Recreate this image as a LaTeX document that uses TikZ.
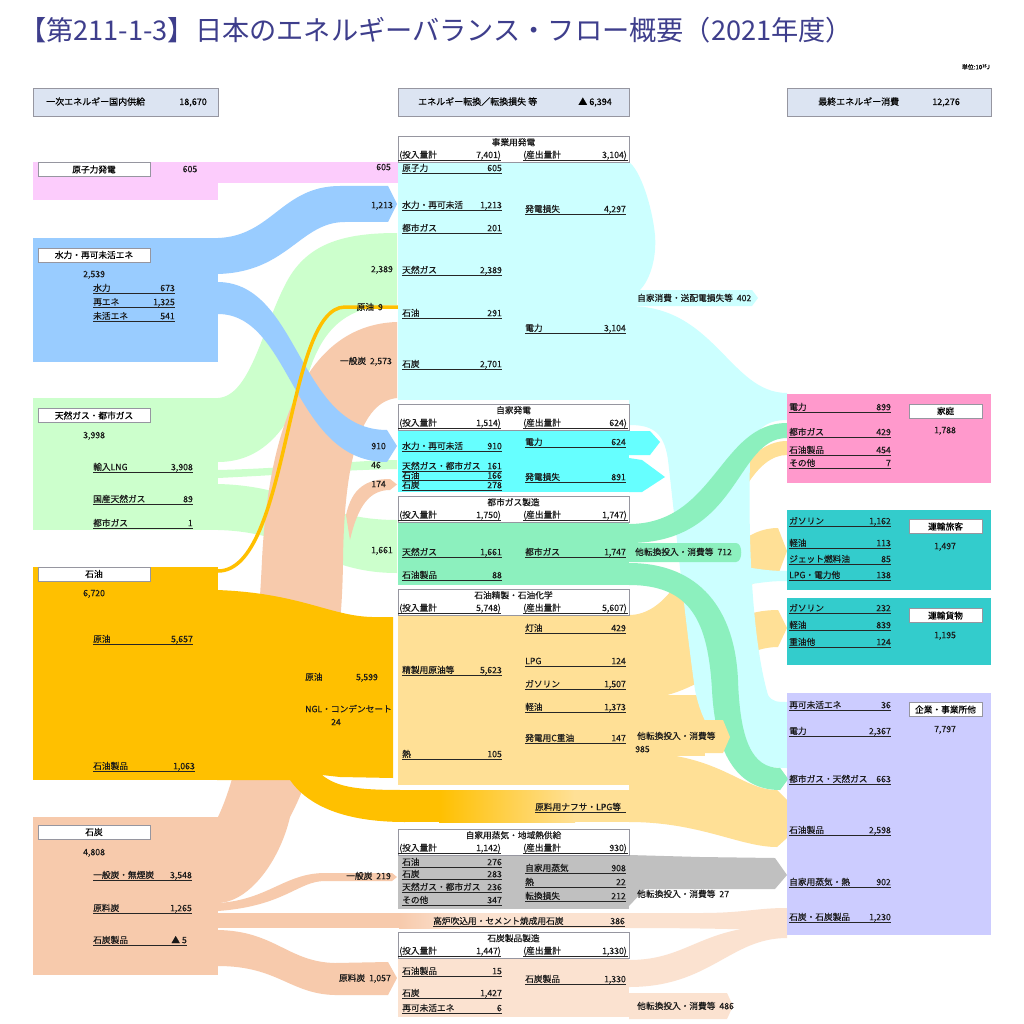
\documentclass[tikz,border=0pt]{standalone}
\usepackage{fontspec}
\setmainfont{Noto Sans CJK JP}[FakeBold=0.35]
\newfontfamily\titlefont{Noto Sans CJK JP}
\definecolor{ttl}{RGB}{62,62,140}
\definecolor{pinkL}{RGB}{252,204,252}
\definecolor{blueF}{RGB}{153,204,255}
\definecolor{greenL}{RGB}{204,255,204}
\definecolor{goldF}{RGB}{255,192,0}
\definecolor{salm}{RGB}{247,202,172}
\definecolor{salmL}{RGB}{251,226,208}
\definecolor{cyanL}{RGB}{204,255,255}
\definecolor{cyanB}{RGB}{102,255,255}
\definecolor{mintF}{RGB}{140,240,190}
\definecolor{yelL}{RGB}{255,224,150}
\definecolor{greyF}{RGB}{192,192,192}
\definecolor{pinkR}{RGB}{255,153,204}
\definecolor{tealF}{RGB}{51,204,204}
\definecolor{lavF}{RGB}{204,204,255}
\definecolor{hdrF}{RGB}{220,228,242}
\definecolor{bord}{RGB}{150,150,160}
\newcommand\fs{\fontsize{8.7}{9}\selectfont}
\newcommand\hs{\fontsize{9}{10}\selectfont}
\newcounter{nd}
% text node: [anchor]{x}{y-center}{text}
\newcommand\ptxt[4][base west]{\stepcounter{nd}\node[txt,anchor=#1] (t\arabic{nd}) at (#2,#3+3.2) {#4};}
% underlined item: {x1}{x2}{y}{label}{value}
\newcommand\itm[5]{\stepcounter{nd}%
  \node[txt,anchor=base west] (l\arabic{nd}) at (#1,#3+3.2) {#4};
  \node[txt,anchor=base east] (v\arabic{nd}) at (#2,#3+3.2) {#5};
  \draw[uline] (#1,#3+5.2) -- (#2,#3+5.2);}
% middle box header: {top}{title}{in}{out}
\newcommand\midhead[4]{\stepcounter{nd}%
  \draw[draw=bord,fill=white,line width=0.6pt] (398,#1) rectangle (629,#1+26);
  \node[txt,anchor=base] (h\arabic{nd}) at (513.5,#1+9.5) {#2};
  \node[txt,anchor=base west] (hi\arabic{nd}) at (399,#1+22) {(投入量計};
  \node[txt,anchor=base east] (hv\arabic{nd}) at (501,#1+22) {#3)};
  \draw[uline] (398,#1+24) -- (501,#1+24);
  \node[txt,anchor=base west] (ho\arabic{nd}) at (523,#1+22) {(産出量計};
  \node[txt,anchor=base east] (hw\arabic{nd}) at (627,#1+22) {#4)};
  \draw[uline] (523,#1+24) -- (628,#1+24);}
\begin{document}
\begin{tikzpicture}[x=1pt,y=-1pt,
  txt/.style={inner sep=0pt,font=\fs,text=black!90},
  uline/.style={line width=0.7pt,black!85},
  lb/.style={draw=bord,fill=white,line width=0.6pt,inner sep=0pt,minimum width=112pt,minimum height=14pt,font=\fs},
  rb/.style={draw=bord,fill=white,line width=0.6pt,inner sep=0pt,minimum width=73pt,minimum height=14pt,font=\fs},
  hb/.style={draw=bord,fill=hdrF,line width=0.6pt}]
\fill[white] (0,0) rectangle (1024,1024);
\useasboundingbox (0,0) rectangle (1024,1024);

% ---------- title ----------
\node[anchor=west,inner sep=0pt,text=ttl,font=\titlefont\fontsize{27.2}{30}\selectfont] (title) at (19,30) {【第211-1-3】日本のエネルギーバランス・フロー概要（2021年度）};
\node[anchor=east,inner sep=0pt,font=\fontsize{6}{6}\selectfont] (unit) at (990,67) {単位:10\raisebox{2pt}{\fontsize{4}{4}\selectfont 15}J};

% ---------- header boxes ----------
\draw[hb] (33,88) rectangle (218,116);
\draw[hb] (398,88) rectangle (629,116);
\draw[hb] (787,88) rectangle (991,116);
\node[inner sep=0pt,font=\hs,anchor=base west] (ha) at (46,105) {一次エネルギー国内供給};
\node[inner sep=0pt,font=\hs,anchor=base east] (hav) at (207,105) {18,670};
\node[inner sep=0pt,font=\hs,anchor=base west] (hb1) at (418,105) {エネルギー転換／転換損失 等};
\node[inner sep=0pt,font=\hs,anchor=base east] (hbv) at (612,105) {▲ 6,394};
\node[inner sep=0pt,font=\hs,anchor=base west] (hc) at (818,105) {最終エネルギー消費};
\node[inner sep=0pt,font=\hs,anchor=base east] (hcv) at (960,105) {12,276};

% ---------- left flows ----------
% natural gas
\fill[greenL] (218,398) .. controls (250,396) and (262,330) .. (285,285) .. controls (305,245) and (340,233) .. (397,233) -- (397,305) .. controls (345,305) and (322,330) .. (308,375) .. controls (292,425) and (265,462) .. (218,462) -- cycle;
\fill[greenL] (218,470) .. controls (300,468) and (340,461) .. (397,460) -- (397,469) .. controls (340,470) and (300,474) .. (218,478) -- cycle;
\fill[greenL] (218,484) .. controls (300,486) and (320,520) .. (397,520) -- (397,573) .. controls (320,573) and (300,532) .. (218,530) -- cycle;
% coal
\fill[salm] (218,817) .. controls (245,760) and (258,650) .. (262,560) .. controls (268,440) and (300,325) .. (397,322) -- (397,398) .. controls (355,402) and (344,480) .. (343,560) .. controls (342,680) and (315,770) .. (290,817) .. controls (280,860) and (250,902) .. (218,903) -- cycle;
\fill[salm] (346,515) .. controls (352,488) and (366,479) .. (390,479) -- (397,484.5) -- (390,490) .. controls (370,490) and (358,505) .. (350,540) -- cycle;
\fill[salm] (218,903) .. controls (268,900) and (285,873) .. (325,873) -- (392,873) -- (397,877) -- (392,881) -- (325,881) .. controls (298,881) and (285,906) .. (218,911) -- cycle;
\fill[salm] (218,913) rectangle (400,928);
\shade[left color=salm,right color=salmL] (399,913) rectangle (460,928);
\fill[salmL] (459,913) rectangle (630,928);
\fill[salm] (218,930) .. controls (275,931) and (288,962) .. (335,963) -- (388,962) -- (397,978) -- (388,995) -- (335,995) .. controls (290,994) and (278,966) .. (218,966) -- cycle;
% hydro / renewables
\fill[blueF] (218,238) .. controls (272,236) and (282,186) .. (340,186) -- (388,186) -- (397,204) -- (388,222) -- (345,222) .. controls (300,222) and (288,272) .. (218,274) -- cycle;
\fill[blueF] (218,282) .. controls (300,283) and (298,430) .. (387,430) -- (397,446) -- (387,462) .. controls (292,462) and (292,314) .. (218,314) -- cycle;
% blocks
\fill[pinkL] (33,162) rectangle (218,200);
\fill[pinkL] (217,162) rectangle (398,183);
\fill[blueF] (33,238) rectangle (218,362);
\fill[greenL] (33,398) rectangle (218,530);
\fill[goldF] (33,567) rectangle (218,780);
\fill[salm] (33,817) rectangle (218,975);
% oil main flow + naphtha
\fill[goldF] (217,590) .. controls (300,593) and (330,616) .. (372,617) -- (393,617) -- (393,778) -- (340,777) -- (322,775) .. controls (338,788) and (360,790) .. (405,790) -- (405,822) .. controls (345,822) and (308,806) .. (290,780) -- (217,780) -- cycle;
\fill[goldF] (404,790) rectangle (440,822);
\shade[left color=goldF,right color=yelL] (439,790) rectangle (575,822);
\fill[yelL] (574,790) rectangle (630,822);
% crude 9
\draw[goldF,line width=3.5pt] (218,571) .. controls (290,571) and (285,307) .. (345,307) -- (398,307);

% ---------- right flows ----------
% refinery products
\fill[yelL] (629,615) .. controls (700,615) and (715,441) .. (787,441) -- (787,455) .. controls (725,455) and (710,640) .. (629,640) -- cycle;
\fill[yelL] (629,630) .. controls (700,630) and (715,528) .. (778,528) -- (787,551) -- (778,575) .. controls (730,575) and (705,670) .. (629,670) -- cycle;
\fill[yelL] (629,660) .. controls (700,660) and (715,610) .. (778,610) -- (787,628) -- (778,647) .. controls (730,647) and (705,700) .. (629,700) -- cycle;
\fill[yelL] (629,695) rectangle (705,756);
\fill[yelL] (629,752) .. controls (720,752) and (740,790) .. (777,790) -- (787,800) -- (787,838) -- (777,847) .. controls (740,847) and (700,822) .. (629,822) -- cycle;
% electricity network
\fill[cyanL] (629,162) .. controls (640,170) and (652,205) .. (655,235) .. controls (657,262) and (648,282) .. (640,290) -- (629,290) -- cycle;
\fill[cyanL] (629,290) -- (752,290) -- (758,298) -- (752,306) -- (629,306) -- cycle;
\fill[cyanL] (629,306) .. controls (715,306) and (730,393) .. (787,393) -- (787,420) .. controls (765,420) and (752,430) .. (750,460) .. controls (748,540) and (752,640) .. (768,695) .. controls (772,702) and (778,702) .. (787,702) -- (787,768) .. controls (735,768) and (705,740) .. (695,690) .. controls (685,620) and (675,520) .. (668,460) .. controls (664,430) and (650,425) .. (629,425) -- cycle;
\fill[cyanL] (745,567) .. controls (765,570) and (772,571) .. (787,571) -- (787,581) .. controls (772,581) and (765,582) .. (745,585) -- cycle;
% self generation arrows
\fill[cyanB] (629,431) -- (650,431) -- (660,442) -- (650,455) -- (629,455) -- cycle;
\fill[cyanB] (629,458) -- (642,460) -- (665,477) -- (642,492) -- (629,492) -- cycle;
% city gas
\fill[mintF] (629,524) .. controls (715,524) and (720,423) .. (787,423) -- (787,438) .. controls (735,438) and (740,543) .. (629,543) -- cycle;
\fill[mintF] (629,563) .. controls (700,563) and (735,610) .. (738,680) .. controls (740,740) and (752,768) .. (780,768) -- (788,779) -- (780,790) .. controls (735,790) and (715,750) .. (712,690) .. controls (708,620) and (690,585) .. (629,585) -- cycle;
\fill[mintF] (629,543) -- (736,543) .. controls (743,543) and (743,562) .. (736,562) -- (629,562) -- cycle;
% refinery tab
\fill[yelL] (629,720) -- (723,720) -- (730,737) -- (723,753) -- (629,753) -- cycle;
% steam
\fill[greyF] (629,855) -- (700,857) -- (775,858) -- (787,875) -- (775,889) -- (645,889) -- (629,906) -- cycle;
% coal products
\fill[salmL] (629,913) -- (700,913) .. controls (745,913) and (755,908) .. (787,908) -- (787,930) .. controls (750,930) and (720,928) .. (629,928) -- cycle;
\fill[salmL] (629,960) .. controls (690,960) and (700,925) .. (787,925) -- (787,938) .. controls (730,938) and (710,987) .. (629,987) -- cycle;
\fill[salmL] (629,993) -- (727,993) -- (733,1006) -- (727,1019) -- (629,1019) -- cycle;

% ---------- middle boxes ----------
\fill[cyanL] (398,162) rectangle (629,400);
\fill[cyanB] (398,430) rectangle (629,492);
\fill[mintF] (398,522) rectangle (629,585);
\fill[yelL] (398,615) rectangle (629,785);
\fill[greyF] (398,855) rectangle (629,909);
\fill[salmL] (398,958) rectangle (629,1017);
\midhead{136}{事業用発電}{7,401}{3,104}
\midhead{404}{自家発電}{1,514}{624}
\midhead{496}{都市ガス製造}{1,750}{1,747}
\midhead{589}{石油精製・石油化学}{5,748}{5,607}
\midhead{829}{自家用蒸気・地域熱供給}{1,142}{930}
\midhead{932}{石炭製品製造}{1,447}{1,330}

% ---------- right boxes ----------
\fill[pinkR] (787,394) rectangle (991,483);
\fill[tealF] (787,510) rectangle (991,590);
\fill[tealF] (787,598) rectangle (991,665);
\fill[lavF] (787,693) rectangle (991,935);
\fill[mintF] (780,768) -- (788,779) -- (780,790) -- cycle;

% ---------- left texts ----------
\node[lb] (b1) at (94,169.5) {原子力発電};
\ptxt[base]{190}{169}{605}
\node[lb] (b2) at (94,255) {水力・再可未活エネ};
\ptxt{83}{274}{2,539}
\itm{93}{175}{288}{水力}{673}
\itm{93}{175}{302}{再エネ}{1,325}
\itm{93}{175}{316}{未活エネ}{541}
\node[lb] (b3) at (94,415.5) {天然ガス・都市ガス};
\ptxt{83}{435}{3,998}
\itm{93}{193}{467}{輸入LNG}{3,908}
\itm{93}{193}{499}{国産天然ガス}{89}
\itm{93}{193}{523}{都市ガス}{1}
\node[lb] (b4) at (94,574) {石油};
\ptxt{83}{593}{6,720}
\itm{93}{193}{639}{原油}{5,657}
\itm{93}{195}{766}{石油製品}{1,063}
\node[lb] (b5) at (94,832) {石炭};
\ptxt{83}{852}{4,808}
\itm{93}{192}{875}{一般炭・無煙炭}{3,548}
\itm{93}{192}{908}{原料炭}{1,265}
\itm{93}{187}{940}{石炭製品}{▲ 5}

% flow labels
\ptxt[base east]{391}{167}{605}
\ptxt[base east]{393}{205}{1,213}
\ptxt[base east]{393}{269}{2,389}
\ptxt[base east]{383}{307}{原油\ \ 9}
\ptxt[base east]{392}{361}{一般炭\ \ 2,573}
\ptxt[base east]{386}{446}{910}
\ptxt[base east]{381}{465}{46}
\ptxt[base east]{386}{484}{174}
\ptxt[base east]{393}{550}{1,661}
\ptxt{305}{677}{原油}
\ptxt[base east]{378}{677}{5,599}
\ptxt{305}{709}{NGL・コンデンセート}
\ptxt[base]{336}{722}{24}
\ptxt[base east]{391}{876}{一般炭\ \ 219}
\ptxt[base east]{391}{978}{原料炭\ \ 1,057}

% ---------- middle texts ----------
\itm{402}{502}{168}{原子力}{605}
\itm{402}{502}{205}{水力・再可未活}{1,213}
\itm{402}{502}{228}{都市ガス}{201}
\itm{402}{502}{270}{天然ガス}{2,389}
\itm{402}{502}{313}{石油}{291}
\itm{402}{502}{364}{石炭}{2,701}
\itm{525}{626}{209}{発電損失}{4,297}
\itm{525}{626}{328}{電力}{3,104}

\itm{402}{502}{446}{水力・再可未活}{910}
\itm{402}{502}{466}{天然ガス・都市ガス}{161}
\itm{402}{502}{475.5}{石油}{166}
\itm{402}{502}{485}{石炭}{278}
\itm{525}{626}{442}{電力}{624}
\itm{525}{626}{477}{発電損失}{891}

\itm{402}{502}{552}{天然ガス}{1,661}
\itm{402}{502}{575}{石油製品}{88}
\itm{525}{626}{552}{都市ガス}{1,747}

\itm{402}{502}{670}{精製用原油等}{5,623}
\itm{402}{502}{754}{熱}{105}
\itm{525}{626}{628}{灯油}{429}
\itm{525}{626}{661}{LPG}{124}
\itm{525}{626}{684}{ガソリン}{1,507}
\itm{525}{626}{707}{軽油}{1,373}
\itm{525}{626}{738}{発電用C重油}{147}
\itm{535}{626}{807}{原料用ナフサ・LPG等}{}

\itm{402}{502}{862}{石油}{276}
\itm{402}{502}{874}{石炭}{283}
\itm{402}{502}{887}{天然ガス・都市ガス}{236}
\itm{402}{502}{900}{その他}{347}
\itm{525}{626}{868}{自家用蒸気}{908}
\itm{525}{626}{882}{熱}{22}
\itm{525}{626}{896}{転換損失}{212}

\itm{433}{625}{921}{高炉吹込用・セメント焼成用石炭}{386}

\itm{402}{502}{971}{石油製品}{15}
\itm{402}{502}{993}{石炭}{1,427}
\itm{402}{502}{1008}{再可未活エネ}{6}
\itm{525}{626}{979}{石炭製品}{1,330}

% outflow labels
\ptxt{637}{298}{自家消費・送配電損失等\ \ 402}
\ptxt{635}{552}{他転換投入・消費等\ \ 712}
\ptxt{637}{736}{他転換投入・消費等}
\ptxt{635}{749}{985}
\ptxt{637}{894}{他転換投入・消費等\ \ 27}
\ptxt{637}{1006}{他転換投入・消費等\ \ 486}

% ---------- right texts ----------
\itm{789}{891}{407}{電力}{899}
\itm{789}{891}{432}{都市ガス}{429}
\itm{789}{891}{450}{石油製品}{454}
\itm{789}{891}{463}{その他}{7}
\node[rb] (r1) at (945.5,411) {家庭};
\ptxt[base]{945}{430}{1,788}

\itm{789}{891}{521}{ガソリン}{1,162}
\itm{789}{891}{543}{軽油}{113}
\itm{789}{891}{559}{ジェット燃料油}{85}
\itm{789}{891}{575}{LPG・電力他}{138}
\node[rb] (r2) at (945.5,526.5) {運輸旅客};
\ptxt[base]{945}{546}{1,497}

\itm{789}{891}{608}{ガソリン}{232}
\itm{789}{891}{625}{軽油}{839}
\itm{789}{891}{642}{重油他}{124}
\node[rb] (r3) at (945.5,615.5) {運輸貨物};
\ptxt[base]{945}{635}{1,195}

\itm{789}{891}{705}{再可未活エネ}{36}
\itm{789}{891}{731}{電力}{2,367}
\itm{789}{891}{779}{都市ガス・天然ガス}{663}
\itm{789}{891}{830}{石油製品}{2,598}
\itm{789}{891}{882}{自家用蒸気・熱}{902}
\itm{789}{891}{917}{石炭・石炭製品}{1,230}
\node[rb] (r4) at (945.5,709.5) {企業・事業所他};
\ptxt[base]{945}{729}{7,797}
\end{tikzpicture}
\end{document}
